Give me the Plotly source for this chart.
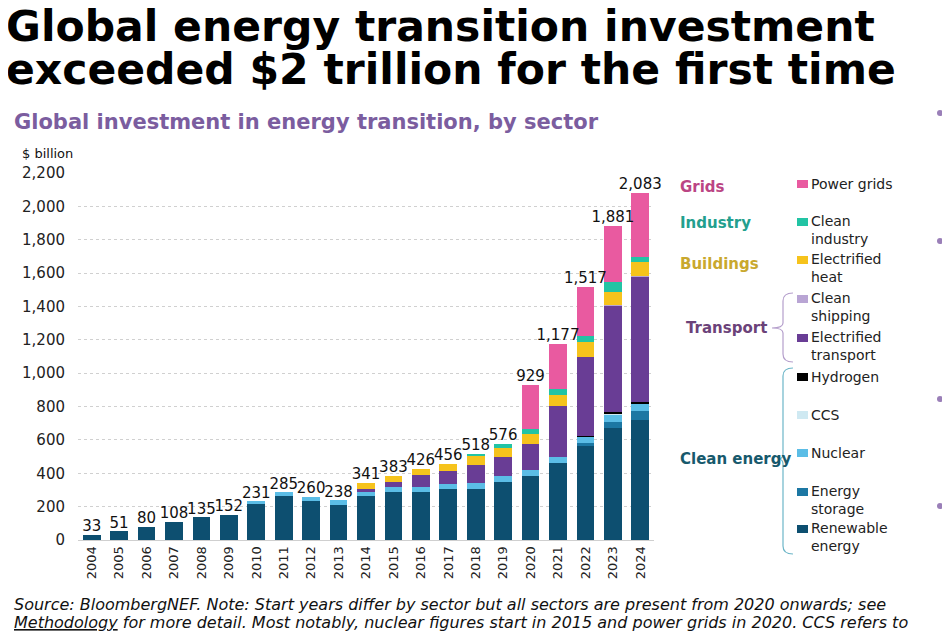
import plotly.graph_objects as go

# 데이터 (단위: $ billion)
years = [str(y) for y in range(2004, 2025)]
renewable = [33, 51, 80, 108, 135, 152, 214, 266, 236, 212, 264, 290, 290, 306, 306, 350, 384, 464, 564, 670, 720]
storage = [0, 0, 0, 0, 0, 0, 0, 0, 0, 0, 0, 0, 0, 0, 0, 0, 0, 0, 16, 40, 56]
nuclear = [0, 0, 0, 0, 0, 0, 17, 19, 24, 26, 26, 30, 26, 28, 34, 34, 36, 36, 40, 40, 40]
ccs = [0, 0, 0, 0, 0, 0, 0, 0, 0, 0, 0, 0, 0, 0, 0, 0, 0, 0, 2, 10, 4]
hydrogen = [0, 0, 0, 0, 0, 0, 0, 0, 0, 0, 0, 0, 0, 0, 0, 0, 0, 0, 2, 10, 6]
e_transport = [0, 0, 0, 0, 0, 0, 0, 0, 0, 0, 16, 30, 74, 80, 110, 116, 156, 304, 474, 638, 756]
shipping = [0, 0, 0, 0, 0, 0, 0, 0, 0, 0, 0, 0, 0, 0, 0, 0, 0, 0, 2, 2, 2]
heat = [0, 0, 0, 0, 0, 0, 0, 0, 0, 0, 35, 33, 36, 42, 52, 50, 60, 66, 84, 74, 80]
industry = [0, 0, 0, 0, 0, 0, 0, 0, 0, 0, 0, 0, 0, 0, 16, 26, 28, 34, 36, 60, 30]
grids = [0, 0, 0, 0, 0, 0, 0, 0, 0, 0, 0, 0, 0, 0, 0, 0, 265, 273, 297, 337, 389]
totals = [33, 51, 80, 108, 135, 152, 231, 285, 260, 238, 341, 383, 426, 456, 518, 576, 929, 1177, 1517, 1881, 2083]

series = [
    ("Renewable energy", renewable, "#0d4f70"),
    ("Energy storage", storage, "#1c77a3"),
    ("Nuclear", nuclear, "#5bbde6"),
    ("CCS", ccs, "#cfe9f2"),
    ("Hydrogen", hydrogen, "#000000"),
    ("Electrified transport", e_transport, "#693d95"),
    ("Clean shipping", shipping, "#b9a5d4"),
    ("Electrified heat", heat, "#f6c31c"),
    ("Clean industry", industry, "#22c4a4"),
    ("Power grids", grids, "#e95aa0"),
]

FONT = "DejaVu Sans, Liberation Sans, sans-serif"
OFF = 8  # 페이지 body 여백
W, H = 950 - OFF, 634 - OFF
L, R, T, B = 78, 654, 173, 540  # 플롯 영역 (페이지 픽셀)


def px(x):
    return (x - L) / (R - L)


def py(y):
    return (B - y) / (B - T)


fig = go.Figure()
for name, vals, color in series:
    fig.add_trace(go.Bar(x=years, y=vals, name=name, marker=dict(color=color, line=dict(width=0))))

# 합계 라벨
fig.add_trace(go.Scatter(
    x=years, y=totals, mode="text", text=[f"{v:,}" for v in totals],
    textposition="top center", textfont=dict(family=FONT, size=15, color="#111"),
    cliponaxis=False, showlegend=False,
))

ann = []
shapes = []


def text(x, y, s, size=15, color="#222", bold=False, xanchor="left", italic=False):
    if bold:
        s = f"<b>{s}</b>"
    if italic:
        s = f"<i>{s}</i>"
    ann.append(dict(x=px(x), y=py(y), xref="paper", yref="paper", text=s, showarrow=False,
                    xanchor=xanchor, yanchor="middle", align="left",
                    font=dict(family=FONT, size=size, color=color)))


# 제목
text(4, 26, "Global energy transition investment", size=42.5, color="#000", bold=True)
text(4, 69, "exceeded $2 trillion for the first time", size=42.5, color="#000", bold=True)
text(12, 122, "Global investment in energy transition, by sector", size=21, color="#7b5d9f", bold=True)
text(20, 153, "$ billion", size=13, color="#111")

# 범례 그룹 라벨
text(678, 187, "Grids", color="#bb4584", bold=True)
text(678, 223, "Industry", color="#239f8e", bold=True)
text(678, 264, "Buildings", color="#c9a82e", bold=True)
text(684, 328, "Transport", color="#6b4279", bold=True)
text(678, 459, "Clean energy", color="#17596c", bold=True)

# 범례 항목
legend_items = [
    ("Power grids", 184, "#e95aa0"),
    ("Clean<br>industry", 222, "#22c4a4"),
    ("Electrified<br>heat", 260, "#f6c31c"),
    ("Clean<br>shipping", 299, "#b9a5d4"),
    ("Electrified<br>transport", 338, "#693d95"),
    ("Hydrogen", 377, "#000000"),
    ("CCS", 415, "#cfe9f2"),
    ("Nuclear", 453, "#5bbde6"),
    ("Energy<br>storage", 492, "#1c77a3"),
    ("Renewable<br>energy", 529, "#0d4f70"),
]
for label, y, color in legend_items:
    shapes.append(dict(type="rect", xref="paper", yref="paper", x0=px(797), x1=px(808),
                       y0=py(y + 4), y1=py(y - 4), fillcolor=color, line=dict(width=0)))
    text(809, y + 8 if "<br>" in label else y, label, size=14)


def brace(x, y0, ym, y1, tip, color):
    p = (f"M {px(x + 10)},{py(y0)} Q {px(x)},{py(y0)} {px(x)},{py(y0 + 8)} "
         f"L {px(x)},{py(ym - 5)} Q {px(x)},{py(ym)} {px(tip)},{py(ym)} "
         f"Q {px(x)},{py(ym)} {px(x)},{py(ym + 5)} "
         f"L {px(x)},{py(y1 - 8)} Q {px(x)},{py(y1)} {px(x + 10)},{py(y1)}")
    shapes.append(dict(type="path", xref="paper", yref="paper", path=p, line=dict(color=color, width=1.2)))


brace(783, 293, 328, 362, 772, "#b59fcc")
brace(783, 368, 459, 554, 778, "#6db6c8")

# 오른쪽 가장자리 점
for y in [113, 241, 399, 506]:
    shapes.append(dict(type="circle", xref="paper", yref="paper", x0=px(937), x1=px(943),
                       y0=py(y + 3), y1=py(y - 3), fillcolor="#9a7fb8", line=dict(width=0)))

# 출처
text(12, 604, "Source: BloombergNEF. Note: Start years differ by sector but all sectors are present from 2020 onwards; see",
     size=16, color="#111", italic=True)
text(12, 622, "<u>Methodology</u> for more detail. Most notably, nuclear figures start in 2015 and power grids in 2020. CCS refers to",
     size=16, color="#111", italic=True)
text(12, 640, "carbon capture and storage.", size=16, color="#111", italic=True)

fig.update_layout(
    width=W, height=H, barmode="stack", bargap=0.35,
    margin=dict(l=L - OFF, r=W - (R - OFF), t=T - OFF, b=H - (B - OFF), autoexpand=False),
    plot_bgcolor="white", paper_bgcolor="white",
    showlegend=False, annotations=ann, shapes=shapes,
    font=dict(family=FONT, color="#222"),
)
fig.update_xaxes(
    type="category", range=[-0.5, len(years) - 0.5], tickangle=-90,
    tickfont=dict(size=13, color="#222"), automargin=False,
    showline=True, linecolor="#cfcfcf", linewidth=1, ticks="", showgrid=False,
)
fig.update_yaxes(
    range=[0, 2200], tickvals=list(range(0, 2201, 200)), tickformat=",", automargin=False,
    tickfont=dict(size=15, color="#222"), showgrid=True, gridcolor="#d0d0d0",
    griddash="dot", gridwidth=1, zeroline=False, ticks="", ticklabelstandoff=12,
)

fig.write_html("out.html")
